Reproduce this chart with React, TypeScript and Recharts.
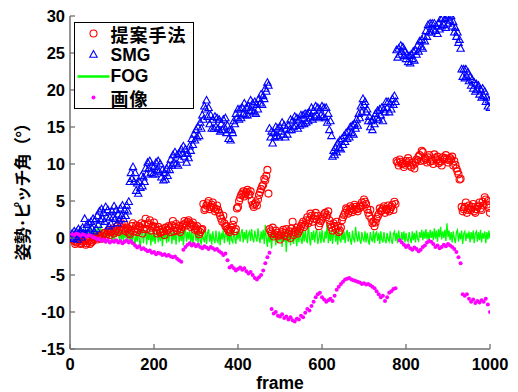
import React from 'react';
import { ComposedChart, Scatter, Line, XAxis, YAxis, Legend } from 'recharts';

// frame index: dense series sampled every 2.5 frames, image series every 5 frames
const framesDense: number[] = Array.from({ length: 400 }, (_, i) => (i + 1) * 2.5);
const framesImage: number[] = Array.from({ length: 200 }, (_, i) => (i + 1) * 5);

const seriesNames = ['提案手法', 'SMG', 'FOG', '画像'];
const seriesColors = ['#ff0000', '#0000ff', '#00ff00', '#ff00ff'];
const xTicks = [0, 200, 400, 600, 800, 1000];
const yTicks = [-15, -10, -5, 0, 5, 10, 15, 20, 25, 30];

const proposed: (number | null)[] = [
  null, null, -0.2, -0.4, -0.8, -0.6, -0.5, -0.3, -0.2, -0.8, -0.7, -0.5, -0.4, -0.2, -0.9, -0.7, -0.3, -0.4, -0.8, -0.6,
  -0.5, -0.3, -0.1, 0.1, 0.2, -0.2, 0.0, 0.3, 0.4, -0.1, 0.2, 0.6, 0.7, 0.2, 0.5, 0.9, 1.1, 0.4, 0.8, 1.0,
  1.3, 0.6, 0.9, 1.2, 1.6, 0.8, 1.0, 1.5, 2.0, 1.1, 1.3, 1.8, 0.9, 1.4, 1.2, 0.7, 0.5, 1.0, 1.6, 2.0,
  0.9, 1.3, 1.7, 0.8, 1.1, 1.6, 1.4, 2.0, 0.6, 1.2, 1.9, 2.6, 1.2, 1.8, 2.0, 2.4, 1.0, 1.4, 1.6, 2.1,
  1.5, 1.0, 0.6, 1.5, 1.1, 0.7, 0.8, 1.2, 0.9, 0.4, 1.4, 1.0, 1.1, 1.6, 1.3, 0.8, 1.7, 2.3, 0.9, 1.4,
  1.9, 1.0, 1.3, 1.6, 0.8, 1.2, 1.5, 1.8, 2.3, 2.0, 1.7, 2.2, 2.4, 2.0, 1.5, 1.8, 2.1, 1.6, 1.1, 1.3,
  1.6, 1.0, 0.5, 0.8, 1.1, 1.2, 4.6, 3.8, 4.0, 4.4, 4.7, 5.0, 3.9, 4.2, 4.5, 4.8, 4.1, 3.6, 3.9, 4.4,
  3.8, 3.4, 3.0, 2.6, 2.2, 3.0, 2.0, 1.6, 1.6, 1.2, 1.0, 0.8, 1.1, 1.4, 1.8, 2.4, 0.9, 1.2, 4.0, 4.2,
  5.0, 5.4, 5.8, 6.0, 6.3, 5.6, 5.9, 6.2, 6.5, 5.8, 5.9, 6.3, 5.0, 4.5, 4.2, 4.6, 4.8, 4.4, 5.2, 5.8,
  6.2, 6.6, 7.0, 7.2, 8.0, 7.8, 8.4, 9.2, 6.0, 1.2, 0.9, 0.6, 1.4, 0.2, 0.5, 1.0, 0.7, 0.4, 0.3, -0.2,
  0.5, 0.8, 1.1, 0.3, 0.7, 1.2, 0.2, 0.6, 0.9, 0.0, 1.3, 2.2, 0.4, 0.8, 1.0, 1.4, 0.6, 0.9, 1.2, 1.6,
  1.9, 2.2, 1.5, 1.8, 2.4, 2.8, 2.0, 2.4, 3.3, 3.0, 2.2, 2.6, 3.0, 3.4, 2.5, 3.0, 1.6, 2.0, 2.3, 2.6,
  2.9, 3.2, 3.4, 2.8, 3.1, 3.6, 2.4, 1.8, 1.4, 1.0, 2.0, 1.6, 1.2, 2.2, 1.6, 0.8, 1.0, 1.4, 2.4, 2.8,
  3.1, 3.4, 4.0, 3.8, 3.3, 3.6, 4.3, 4.0, 3.5, 3.8, 4.5, 4.2, 3.9, 3.6, 4.0, 4.4, 4.2, 4.8, 4.4, 5.2,
  4.9, 4.6, 3.9, 3.4, 3.0, 3.8, 2.6, 2.0, 2.2, 1.6, 2.1, 2.6, 2.9, 3.2, 4.0, 3.6, 3.7, 4.0, 4.3, 3.4,
  3.9, 3.8, 4.4, 3.6, 3.9, 4.2, 4.5, 3.8, 4.9, 4.6, 10.4, 10.2, 9.8, 10.6, 10.3, 10.0, 10.1, 9.6, 9.9, 10.4,
  10.1, 10.8, 10.4, 9.8, 9.6, 10.2, 9.9, 9.4, 10.2, 10.6, 10.5, 11.0, 11.2, 10.4, 11.8, 11.6, 10.5, 10.8, 10.6, 10.2,
  10.9, 11.2, 10.3, 10.6, 10.4, 10.0, 11.3, 10.8, 10.6, 11.0, 10.1, 10.4, 10.3, 9.8, 10.9, 10.6, 10.8, 11.2, 10.7, 10.2,
  10.5, 10.8, 10.6, 11.0, 9.8, 10.4, 9.9, 9.4, 9.0, 8.6, 7.9, 8.0, 4.2, 3.6, 3.9, 4.2, 4.8, 3.4, 3.8, 4.4,
  4.0, 3.8, 4.2, 4.6, 3.6, 3.4, 3.9, 4.2, 4.4, 4.8, 4.0, 3.8, 4.9, 4.4, 5.5, 5.2, 4.5, 5.0, 4.1, 3.4,
];

const smg: (number | null)[] = [
  0.0, 0.6, -0.1, 0.9, 0.2, 0.8, -0.2, 1.2, 0.4, 1.0, 0.1, 1.4, 0.6, 2.6, 0.5, 1.8, 0.7, 2.0, 1.0, 2.2,
  1.3, 2.6, 0.9, 2.4, 1.2, 3.0, 1.8, 3.6, 2.4, 3.9, 2.6, 3.4, 2.2, 4.2, 2.8, 3.8, 1.6, 2.8, 1.9, 3.6,
  2.8, 4.3, 2.6, 3.8, 2.0, 3.2, 2.4, 4.0, 3.0, 4.4, 2.6, 3.8, 3.0, 4.4, 3.6, 4.9, 7.6, 8.8, 8.0, 9.6,
  7.6, 8.8, 6.4, 7.4, 6.0, 7.6, 6.8, 8.4, 7.0, 8.2, 7.6, 9.4, 8.6, 10.2, 9.4, 10.4, 8.8, 9.8, 8.6, 9.6,
  8.6, 10.2, 9.2, 10.4, 9.0, 10.0, 8.2, 9.2, 7.8, 8.8, 7.9, 9.4, 8.4, 9.8, 9.2, 10.6, 9.8, 11.2, 10.2, 11.6,
  10.0, 11.2, 9.8, 11.4, 10.6, 12.0, 11.4, 12.4, 11.0, 12.0, 10.2, 11.4, 10.8, 12.4, 11.8, 13.4, 12.6, 14.0, 13.2, 14.6,
  13.6, 15.0, 13.8, 15.6, 14.8, 16.6, 16.0, 17.8, 17.4, 18.6, 16.4, 17.6, 15.4, 16.6, 14.8, 16.0, 14.8, 16.4, 15.0, 16.2,
  14.8, 16.0, 14.4, 15.4, 14.6, 16.0, 15.0, 16.2, 14.2, 15.2, 13.4, 14.6, 13.2, 14.6, 14.2, 15.8, 15.4, 16.8, 16.2, 17.4,
  16.0, 17.4, 16.2, 17.6, 16.8, 18.2, 16.6, 17.6, 16.6, 17.8, 17.2, 18.6, 17.2, 18.2, 17.0, 18.4, 16.8, 18.0, 17.4, 18.8,
  18.2, 19.4, 18.0, 19.2, 18.8, 20.2, 19.8, 21.0, 20.6, 14.8, 13.6, 14.4, 12.8, 14.2, 13.6, 15.0, 13.8, 14.8, 13.6, 15.0,
  14.4, 15.6, 14.0, 15.2, 13.6, 14.8, 14.0, 15.2, 14.6, 16.0, 14.6, 15.8, 15.0, 16.4, 15.2, 16.2, 14.8, 16.0, 15.2, 16.6,
  15.4, 16.6, 15.4, 16.8, 15.6, 16.8, 15.8, 17.0, 16.2, 17.6, 16.0, 17.2, 16.4, 17.8, 16.6, 17.6, 16.2, 17.4, 16.6, 17.8,
  16.4, 17.6, 16.2, 17.6, 15.6, 16.8, 14.6, 15.8, 13.8, 11.0, 11.8, 11.2, 12.2, 11.6, 12.8, 12.2, 13.2, 12.0, 13.4, 12.6,
  13.8, 13.0, 14.2, 13.4, 14.4, 13.6, 15.0, 14.2, 15.2, 14.0, 15.4, 14.8, 16.0, 15.2, 16.8, 16.2, 17.8, 17.0, 18.8, 18.0,
  18.4, 17.0, 17.4, 15.8, 16.4, 15.0, 15.8, 14.6, 16.0, 15.4, 16.8, 16.2, 17.2, 16.0, 17.4, 16.6, 17.6, 15.8, 17.4, 17.0,
  18.4, 17.6, 18.4, 17.0, 18.2, 17.4, 18.8, 18.0, 19.2, 18.4, 25.4, 24.4, 25.6, 24.8, 26.0, 25.2, 25.8, 24.6, 25.2, 24.2,
  24.8, 23.8, 24.6, 23.6, 24.8, 24.2, 25.2, 24.0, 25.4, 24.8, 26.0, 25.2, 26.6, 25.8, 26.8, 25.6, 27.2, 26.6, 28.0, 27.2,
  28.8, 27.8, 29.0, 27.8, 29.0, 28.2, 29.0, 28.0, 28.6, 27.6, 29.0, 28.2, 29.6, 28.6, 29.8, 28.8, 29.6, 28.4, 29.8, 29.0,
  30.2, 29.4, 30.0, 28.6, 29.2, 27.8, 28.4, 27.2, 27.8, 26.4, 26.8, 25.6, 22.8, 21.8, 22.8, 21.6, 22.8, 21.8, 22.4, 21.2,
  21.8, 20.6, 21.4, 20.2, 21.0, 19.8, 20.8, 20.0, 20.6, 19.4, 20.0, 19.0, 20.2, 19.2, 19.8, 18.4, 19.0, 17.8, 18.6, 17.6,
];

const fog: number[] = [
  0.6, -0.1, 0.9, 0.1, 1.0, -0.2, 0.7, 0.2, 1.2, -0.1, 0.9, 0.1, 1.3, -0.2, 1.0, 0.3, 1.2, -0.1, 0.9, 1.4,
  0.1, 1.1, -0.4, 1.2, 0.0, 1.3, -0.3, 0.9, 1.9, -0.2, 1.2, -0.6, 1.0, 0.0, 1.4, -0.4, 0.9, 0.1, 1.6, -0.3,
  1.1, -0.7, 1.3, 0.1, 0.9, 1.8, -0.5, 1.2, -0.2, 1.0, -0.8, 1.3, 0.0, 0.9, -0.6, 1.4, -0.3, 0.8, -0.9, 1.0,
  0.0, -1.2, 0.9, -0.5, 1.2, -0.2, -1.4, 0.7, 1.0, -0.7, 0.5, 1.1, -0.9, 0.8, -0.3, 1.2, -1.0, 0.7, -0.5, 0.9,
  -0.8, 0.6, 1.1, -0.6, 0.8, -0.4, 1.0, -1.1, 0.7, -0.2, 1.2, -0.7, 0.9, -0.5, 0.6, 1.1, -0.8, 0.8, -0.3, 0.9,
  -0.9, 0.7, 1.2, -0.6, 0.8, -0.4, 1.0, -1.0, 0.6, 1.2, -0.5, 0.8, -0.2, 1.1, -0.7, 0.9, -0.8, 0.5, 1.0, -0.4,
  0.8, -0.7, 1.1, -0.3, -0.9, 0.9, -0.1, -0.6, 1.0, -0.8, 0.7, 1.2, -0.5, 0.6, -0.9, 0.9, -0.2, -0.7, 1.0, -0.3,
  -0.6, 0.9, -1.0, 0.7, -0.2, 1.2, -0.7, 0.6, 0.9, -0.5, 0.8, -0.9, 1.1, -0.3, -0.6, 1.0, -0.1, -0.8, 0.9, -0.2,
  1.0, -0.5, 0.7, 1.2, -0.6, 0.8, -0.2, 1.1, -0.7, 0.6, 0.9, -0.4, 1.2, -0.1, -0.6, 1.0, 0.1, -0.5, 1.3, 0.0,
  -0.7, 0.9, -0.2, 1.1, -0.8, 1.8, -0.1, -1.2, 0.9, -0.6, 0.7, -1.4, 0.8, -0.2, 1.1, -1.0, 0.6, -0.7, 0.9, -0.5,
  0.8, -1.2, 1.0, -0.5, 0.7, -1.9, 1.1, -0.6, 0.8, -1.0, 1.2, -0.3, -0.8, 0.9, -0.1, -1.1, 1.0, -0.6, 1.5, -0.2,
  -0.8, 0.9, -0.5, 1.1, -0.2, -0.7, 2.1, 0.0, -1.0, 0.8, -0.3, 1.0, -0.6, 0.7, 1.2, -0.8, -0.1, 0.9, -0.7, 1.1,
  -0.2, -0.6, 0.9, -0.1, 2.2, -0.7, 0.8, -0.4, 1.1, -0.8, 0.6, 0.9, -0.5, 0.7, -0.9, 1.0, -0.2, -0.6, 0.8, -0.3,
  0.9, -0.7, 0.6, 1.1, -0.5, 0.8, -0.2, -0.9, 1.0, -0.1, -0.6, 1.5, 0.1, -0.5, 0.9, -0.3, -0.8, 0.8, -0.1, -0.4,
  0.9, -0.6, 0.7, -0.3, -0.9, 0.8, -0.1, -0.5, 1.0, -0.7, 0.6, 0.8, -0.4, 0.7, -0.8, 0.9, -0.2, -0.6, 0.8, -0.3,
  -0.7, 0.7, -0.2, -0.5, 0.9, -0.3, -0.8, 0.6, 0.9, -0.4, 0.7, -0.7, 1.0, -0.1, -0.5, 0.8, -0.3, 0.9, -0.6, 0.7,
  -0.2, -0.5, 0.8, -0.1, -0.7, 0.9, -0.3, 0.7, -0.6, 1.0, -0.1, -0.4, 0.8, 0.0, 1.1, -0.3, 0.9, -0.1, 1.2, -0.2,
  0.8, -0.4, 1.1, 0.0, 0.9, -0.3, 1.3, -0.1, 1.0, -0.5, 1.2, 0.1, 1.5, -0.2, 0.9, 0.0, 1.1, -0.4, 2.0, 0.1,
  1.0, -0.3, 0.8, -0.6, 0.9, -0.1, -0.7, 0.8, 1.1, -0.5, 0.7, -0.2, 1.0, -0.8, 0.6, 0.9, -0.4, 0.7, -0.1, 0.9,
  -0.6, 0.8, -0.2, 1.0, -0.7, 0.6, 0.9, -0.5, 0.8, -0.3, 1.1, -0.6, 0.7, -0.1, 0.9, -0.7, 0.8, -0.2, 1.0, -0.1,
];

const image: (number | null)[] = [
  0.5, 0.4, 0.6, 0.5, 0.3, 0.5, 0.4, 0.2, 0.4, 0.3,
  0.1, 0.0, -0.2, -0.1, -0.4, -0.2, -0.5, -0.3, -0.6, -0.4,
  -0.5, -0.3, -0.6, -0.4, -0.7, -0.5, -0.3, -0.6, -0.4, -0.7,
  -1.0, -1.3, -1.1, -1.5, -1.4, -1.6, -1.8, -1.7, -2.0, -1.9,
  -2.2, -2.0, -2.1, -2.3, -2.2, -2.4, -2.3, -2.5, -2.6, -2.5,
  -2.8, -3.0, -3.2, -1.6, -1.2, -0.9, -0.7, -1.0, -0.8, -1.1,
  -0.9, -1.2, -1.4, -1.1, -1.3, -1.5, -1.2, -1.4, -1.6, -1.5,
  -1.8, -2.0, -2.3, -2.1, -3.0, -4.0, -3.8, -4.1, -4.4, -4.2,
  -4.0, -4.3, -4.1, -4.5, -4.8, -4.6, -5.0, -5.4, -5.6, -5.3,
  -5.0, -4.4, -3.4, -2.6, -2.0, -9.6, -10.2, -10.0, -10.5, -10.6,
  -10.3, -10.8, -10.6, -11.0, -10.7, -11.1, -11.3, -10.9, -11.0, -10.5,
  -10.7, -10.1, -9.6, -9.8, -9.2, -8.6, -8.0, -7.6, -7.4, -8.0,
  -8.3, -8.6, -8.4, -8.2, -8.5, -7.8, -7.0, -6.6, -6.2, -5.9,
  -5.6, -5.5, -5.4, -5.6, -5.7, -5.8, -5.9, -6.0, -6.2, -6.1,
  -6.3, -6.2, -6.4, -6.6, -6.8, -7.2, -7.6, -8.0, -7.8, -8.5,
  -8.0, -7.4, -7.2, -6.9, -6.8, null, -0.3, -0.6, -0.9, -1.2,
  -1.0, -1.4, -1.6, -1.3, -1.5, -1.8, -1.6, -1.2, -1.0, -0.6,
  -0.4, -0.5, -0.8, -1.2, -1.0, -1.4, -1.2, -0.9, -1.1, -0.8,
  -1.0, -1.2, -1.5, -1.9, -2.6, -3.4, -7.6, -7.8, -7.6, -8.2,
  -8.6, -8.3, -8.8, -8.5, -8.7, -8.4, -8.6, -8.2, -9.0, -10.0,
];

const toPoints = (xs: number[], vals: (number | null)[]) =>
  xs
    .map((f, i) => ({ f, v: vals[i] }))
    .filter((p) => p.v !== null && p.v !== undefined);

const proposedData = toPoints(framesDense, proposed);
const smgData = toPoints(framesDense, smg);
const fogData = toPoints(framesDense, fog);
const imageData = toPoints(framesImage, image);

const LATIN = '"Liberation Sans", Arial, sans-serif';
const CJK = '"Noto Sans CJK JP", "Noto Sans CJK SC", sans-serif';
const AXIS = '#707070';

const CircleShape = (p: any) =>
  p.cx == null || p.cy == null ? <g /> : (
    <circle cx={p.cx} cy={p.cy} r={3.5} fill="none" stroke={seriesColors[0]} strokeWidth={1.1} />
  );

const TriangleShape = (p: any) => {
  if (p.cx == null || p.cy == null) return <g />;
  const { cx, cy } = p;
  return (
    <polygon
      points={`${cx},${cy - 3.9} ${cx - 3.7},${cy + 2.7} ${cx + 3.7},${cy + 2.7}`}
      fill="none"
      stroke={seriesColors[1]}
      strokeWidth={1.1}
    />
  );
};

const DotShape = (p: any) =>
  p.cx == null || p.cy == null ? <g /> : <circle cx={p.cx} cy={p.cy} r={2} fill={seriesColors[3]} />;

const XTick = (props: any) => {
  const { x, y, payload } = props;
  return (
    <g>
      <line x1={x} x2={x} y1={y} y2={y - 5} stroke={AXIS} strokeWidth={1.3} />
      <text x={x} y={y + 21} textAnchor="middle" fontFamily={LATIN} fontWeight="bold" fontSize={16.5} fill="#000">
        {payload.value}
      </text>
    </g>
  );
};

const YTick = (props: any) => {
  const { x, y, payload } = props;
  return (
    <g>
      <line x1={x} x2={x + 5} y1={y} y2={y} stroke={AXIS} strokeWidth={1.3} />
      <text x={x - 5} y={y + 6} textAnchor="end" fontFamily={LATIN} fontWeight="bold" fontSize={16.5} fill="#000">
        {payload.value}
      </text>
    </g>
  );
};

const YLabel = () => (
  <text
    x={13}
    y={180}
    transform="rotate(-90 13 180)"
    textAnchor="middle"
    dominantBaseline="central"
    fontFamily={CJK}
    fontWeight="bold"
    fontSize={17}
    letterSpacing={-0.8}
    fill="#000"
  >
    姿勢·ピッチ角（°）
  </text>
);

const LegendMarker = ({ i }: { i: number }) => {
  if (i === 0) return <circle cx={18.5} cy={10.5} r={3.5} fill="none" stroke={seriesColors[0]} strokeWidth={1.1} />;
  if (i === 1)
    return (
      <polygon points="18.5,6.6 14.8,13.2 22.2,13.2" fill="none" stroke={seriesColors[1]} strokeWidth={1.1} />
    );
  if (i === 2) return <line x1={2.5} x2={34.5} y1={10.5} y2={10.5} stroke={seriesColors[2]} strokeWidth={2.5} />;
  return <circle cx={18.5} cy={10.5} r={2} fill={seriesColors[3]} />;
};

const LegendBox = () => (
  <div
    style={{
      position: 'relative',
      width: 120,
      height: 87,
      border: '1.5px solid #000',
      boxSizing: 'border-box',
      background: '#fff',
    }}
  >
    {seriesNames.map((name, i) => {
      const isCjk = /[^\x00-\x7f]/.test(name);
      return (
        <div
          key={name}
          style={{
            position: 'absolute',
            left: 0,
            top: 0.5 + i * 21.4,
            height: 20,
            display: 'flex',
            alignItems: 'center',
            overflow: 'visible',
          }}
        >
          <svg width={35.5} height={21} style={{ display: 'block' }}>
            <LegendMarker i={i} />
          </svg>
          <span
            style={{
              fontFamily: isCjk ? CJK : LATIN,
              fontWeight: 'bold',
              fontSize: isCjk ? 18 : 17.5,
              lineHeight: '18px',
              color: '#000',
              whiteSpace: 'nowrap',
              letterSpacing: isCjk ? 1 : 0,
            }}
          >
            {name}
          </span>
        </div>
      );
    })}
  </div>
);

export default function App() {
  return (
    <div style={{ width: 510, height: 384, background: '#fff' }}>
      <ComposedChart width={510} height={384} margin={{ top: 8, right: 28, bottom: 0, left: 0 }}>
        <XAxis
          type="number"
          dataKey="f"
          domain={[0, 1000]}
          ticks={xTicks}
          interval={0}
          allowDataOverflow
          height={43}
          axisLine={{ stroke: AXIS, strokeWidth: 1.5 }}
          tickLine={false}
          tickSize={0}
          tickMargin={0}
          tick={<XTick />}
          label={{
            value: 'frame',
            position: 'insideBottom',
            offset: 3,
            fontFamily: LATIN,
            fontWeight: 'bold',
            fontSize: 17.5,
            fill: '#000',
          }}
        />
        <YAxis
          type="number"
          domain={[-15, 30]}
          ticks={yTicks}
          interval={0}
          allowDataOverflow
          width={62}
          axisLine={{ stroke: AXIS, strokeWidth: 1.5 }}
          tickLine={false}
          tickSize={0}
          tickMargin={0}
          tick={<YTick />}
          label={<YLabel />}
        />
        <Legend
          layout="vertical"
          align="center"
          verticalAlign="middle"
          content={<LegendBox />}
          wrapperStyle={{ left: 66, top: 14, width: 120, height: 87 }}
        />
        <Scatter name={seriesNames[0]} data={proposedData} dataKey="v" shape={<CircleShape />} isAnimationActive={false} />
        <Scatter name={seriesNames[1]} data={smgData} dataKey="v" shape={<TriangleShape />} isAnimationActive={false} />
        <Line
          name={seriesNames[2]}
          data={fogData}
          dataKey="v"
          stroke={seriesColors[2]}
          strokeWidth={1.3}
          dot={false}
          activeDot={false}
          isAnimationActive={false}
        />
        <Scatter name={seriesNames[3]} data={imageData} dataKey="v" shape={<DotShape />} isAnimationActive={false} />
      </ComposedChart>
    </div>
  );
}
